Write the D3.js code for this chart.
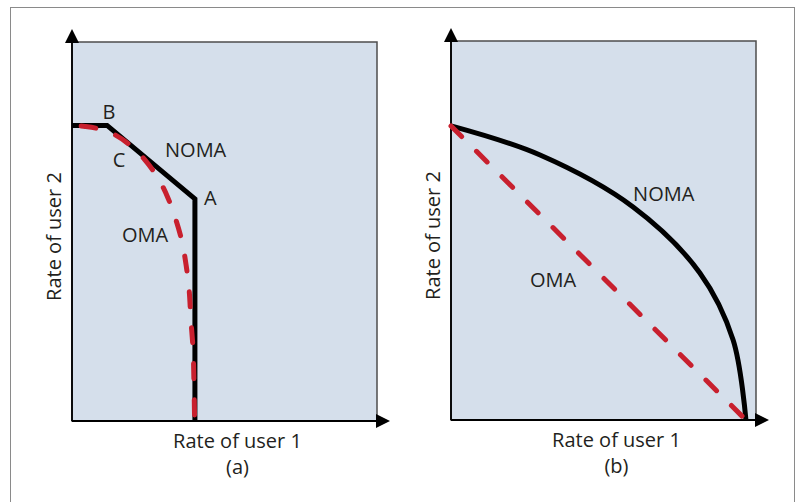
<!DOCTYPE html>
<html>
<head>
<meta charset="utf-8">
<script src="https://cdn.jsdelivr.net/npm/d3@7"></script>
<style>
  body { margin: 0; background: #fff; }
  text { font-family: "Open Sans", sans-serif; fill: #231f20; }
</style>
</head>
<body>
<div id="chart"></div>
<script>
// rate values in arbitrary units, 0..10 on each axis
var nomaA = [[0, 7.8], [1.15, 7.8], [4.03, 5.86], [4.03, 0]];
var omaA = [[0, 7.8], [0.43, 7.77], [0.92, 7.70], [1.41, 7.55], [1.90, 7.28], [2.39, 6.89],
  [2.82, 6.41], [3.15, 5.88], [3.41, 5.30], [3.61, 4.72], [3.74, 4.12], [3.84, 3.46],
  [3.90, 2.66], [3.97, 1.87], [4.00, 0.95], [4.02, 0]];
var nomaB = [[0, 7.76], [2.92, 6.99], [5.97, 5.62], [8.16, 3.88], [9.25, 2.11], [9.67, 0]];
var omaB = [[0, 7.76], [9.67, 0]];

// labels placed in the same data units
var labelsA = [
  { text: "B", x: 1.00, y: 7.97 },
  { text: "C", x: 1.34, y: 6.70 },
  { text: "NOMA", x: 3.05, y: 6.97 },
  { text: "A", x: 4.33, y: 5.70 },
  { text: "OMA", x: 1.64, y: 4.72 }
];
var labelsB = [
  { text: "NOMA", x: 5.97, y: 5.78 },
  { text: "OMA", x: 2.59, y: 3.51 }
];

var svgWidth = 797;
var svgHeight = 502;

var svg = d3.select("#chart")
  .append("svg")
  .attr("width", svgWidth)
  .attr("height", svgHeight);

// outer frame
svg.append("rect")
  .attr("x", 10.5)
  .attr("y", 7.5)
  .attr("width", 784)
  .attr("height", 510)
  .attr("fill", "none")
  .attr("stroke", "#8a8a8a")
  .attr("stroke-width", 1);

var red = "#c8202e";

function drawPanel(left, right, top, bottom, noma, oma, curved, dashOffset, labels, caption) {
  var x = d3.scaleLinear().domain([0, 10]).range([left, right]);
  var y = d3.scaleLinear().domain([0, 10]).range([bottom, top]);

  var g = svg.append("g");

  g.append("rect")
    .attr("x", x(0))
    .attr("y", y(10))
    .attr("width", x(10) - x(0))
    .attr("height", y(0) - y(10))
    .attr("fill", "#d5dfeb")
    .attr("stroke", "#4d4d4d")
    .attr("stroke-width", 1.5);

  // axes with arrow heads
  g.append("line")
    .attr("x1", x(0)).attr("y1", y(0))
    .attr("x2", x(0)).attr("y2", y(10))
    .attr("stroke", "#000").attr("stroke-width", 1.8);
  g.append("line")
    .attr("x1", x(0)).attr("y1", y(0))
    .attr("x2", x(10)).attr("y2", y(0))
    .attr("stroke", "#000").attr("stroke-width", 1.8);

  g.append("path")
    .attr("d", `M${x(0) - 7},${y(10) + 1} L${x(0)},${y(10) - 13} L${x(0) + 7},${y(10) + 1} Z`)
    .attr("fill", "#000");
  g.append("path")
    .attr("d", `M${x(10) - 1},${y(0) - 7} L${x(10) + 13},${y(0)} L${x(10) - 1},${y(0) + 7} Z`)
    .attr("fill", "#000");

  var line = d3.line()
    .x(d => x(d[0]))
    .y(d => y(d[1]));

  var curveLine = d3.line()
    .x(d => x(d[0]))
    .y(d => y(d[1]))
    .curve(d3.curveCatmullRom);

  g.append("path")
    .datum(noma)
    .attr("d", curved ? curveLine : line)
    .attr("fill", "none")
    .attr("stroke", "#000")
    .attr("stroke-width", 5)
    .attr("stroke-linejoin", "miter");

  g.append("path")
    .datum(oma)
    .attr("d", curveLine)
    .attr("fill", "none")
    .attr("stroke", red)
    .attr("stroke-width", 5)
    .attr("stroke-linecap", "round")
    .attr("stroke-dasharray", "15 21")
    .attr("stroke-dashoffset", dashOffset);

  g.selectAll(".lbl")
    .data(labels)
    .enter()
    .append("text")
    .attr("x", d => x(d.x))
    .attr("y", d => y(d.y))
    .style("font-size", "20px")
    .text(d => d.text);

  var cx = (x(0) + x(10)) / 2 + 13;
  g.append("text")
    .attr("x", cx)
    .attr("y", y(0) + 27)
    .attr("text-anchor", "middle")
    .style("font-size", "20px")
    .text("Rate of user 1");
  g.append("text")
    .attr("x", cx)
    .attr("y", y(0) + 53)
    .attr("text-anchor", "middle")
    .style("font-size", "20px")
    .text(caption);

  g.append("text")
    .attr("transform", `translate(${x(0) - 11}, ${(y(0) + y(10)) / 2 + 5}) rotate(-90)`)
    .attr("text-anchor", "middle")
    .style("font-size", "20px")
    .text("Rate of user 2");
}

drawPanel(72, 377, 42, 421, nomaA, omaA, false, -9, labelsA, "(a)");
drawPanel(451, 756, 41, 420, nomaB, omaB, true, 0, labelsB, "(b)");
</script>
</body>
</html>
